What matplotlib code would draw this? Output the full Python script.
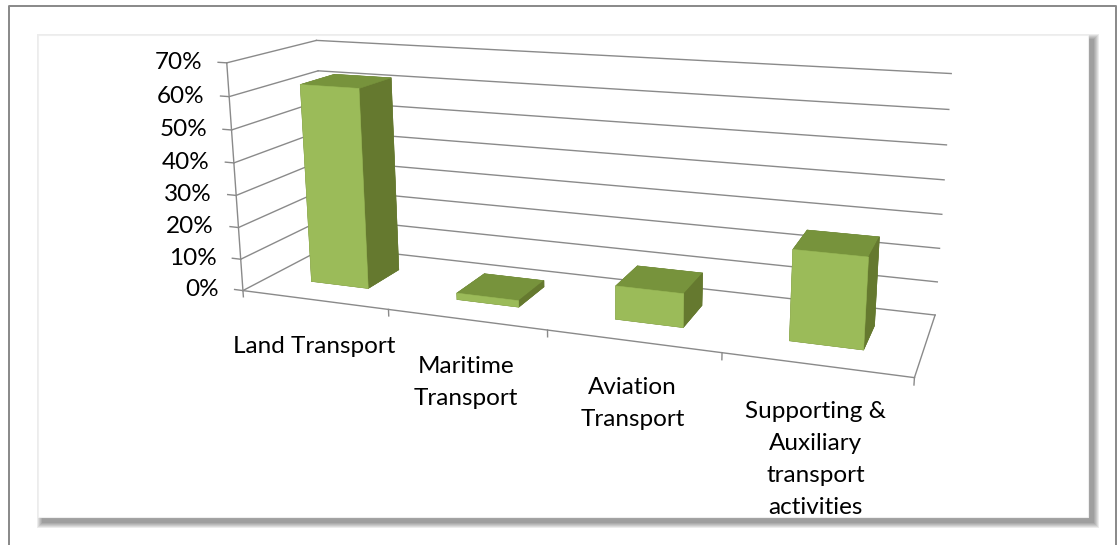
import numpy as np
import matplotlib
matplotlib.use('Agg')
import matplotlib.pyplot as plt
from matplotlib.patches import Rectangle
from matplotlib.lines import Line2D
from matplotlib.transforms import IdentityTransform
from mpl_toolkits.mplot3d import proj3d

# ---------------- data ----------------
categories = ["Land Transport", "Maritime\nTransport", "Aviation\nTransport",
              "Supporting &\nAuxiliary\ntransport\nactivities"]
shares = [62, 2, 10, 26]                     # percent
yticks = [0, 10, 20, 30, 40, 50, 60, 70]     # percent
ytick_labels = [f"{t}%" for t in yticks]

# ---------------- style ----------------
W, H = 1117, 545
FRONT, TOP, SIDE = '#9BBB59', '#77933C', '#65792F'
GRID = '#8a8a8a'
plt.rcParams['font.family'] = ['Lato', 'DejaVu Sans']

fig = plt.figure(figsize=(W / 100, H / 100), dpi=100)
fig.patch.set_facecolor('white')


def px_rect(x0, y0, x1, y1, **kw):
    """rectangle given in image pixel coords (y downwards)"""
    return Rectangle((x0 / W, 1 - y1 / H), (x1 - x0) / W, (y1 - y0) / H,
                     transform=fig.transFigure, **kw)


# outer frame
frame = Line2D([8.5 / W, 8.5 / W, 1115.5 / W, 1115.5 / W],
               [-0.05, 1 - 5.5 / H, 1 - 5.5 / H, -0.05],
               transform=fig.transFigure, color='#888888', lw=1.4, zorder=-20)
fig.add_artist(frame)

# chart box with soft drop shadow
bx0, by0, bx1, by1 = 38, 35, 1088, 517
off = 5
for r in range(6, 0, -1):
    fig.add_artist(px_rect(bx0 + off - r, by0 + off - r, bx1 + off + r, by1 + off + r,
                           facecolor='black', edgecolor='none', alpha=0.075, zorder=-15))
fig.add_artist(px_rect(bx0, by0, bx1, by1, facecolor='white', edgecolor='#efefef',
                       lw=0.8, zorder=-10))

# ---------------- 3D axes (camera fitted to the reference) ----------------
A_SCALE, CX, CY = 3946.94, 578.01, 187.90
ax = fig.add_axes([0, 0, 1, 1], projection='3d', computed_zorder=False)
vx0, vy0, vw, vh = ax.viewLim.bounds
L = A_SCALE * vw
left = CX + A_SCALE * vx0
bottom = H - CY + A_SCALE * vy0
ax.set_position([left / W, bottom / H, L / W, L / H])
ax.patch.set_visible(False)
ax.set_axis_off()
ax.set_box_aspect((1, 0.24616, 0.34978))
ax.set_proj_type('persp', focal_length=0.33422)
ax.view_init(elev=14.398, azim=-69.354, roll=0.253)

n = len(categories)
x0, x1 = -0.5, n - 0.5
y0, y1 = 0.0, 1.0
zmax = yticks[-1] / 100

lw = 1.0
lines = []
for t in yticks:
    z = t / 100
    lines += ax.plot([x0, x1], [y1, y1], [z, z], color=GRID, lw=lw, zorder=1)        # back wall
    lines += ax.plot([x0, x0], [y0, y1], [z, z], color=GRID, lw=lw, zorder=1)        # side wall
    lines += ax.plot([x0, x0 - 0.06], [y0, y0], [z, z], color=GRID, lw=lw, zorder=1)  # tick
lines += ax.plot([x0, x0], [y0, y0], [-0.02, zmax], color=GRID, lw=lw, zorder=1)      # value axis
lines += ax.plot([x0, x1], [y0, y0], [0, 0], color=GRID, lw=lw, zorder=1)            # category axis
lines += ax.plot([x1, x1], [y0, y1], [0, 0], color=GRID, lw=lw, zorder=1)            # floor edge
for b in np.arange(x0 + 1, x1 + 0.01, 1.0):
    lines += ax.plot([b, b], [y0, y0], [0, -0.02], color=GRID, lw=lw, zorder=1)
for ln in lines:
    ln.set_clip_on(False)

# bars
xs = np.arange(n)
bw, bd, yb = 0.4, 0.4, 0.3
face_cols = []
for _ in xs:
    # order: bottom, top, front(-y), back(+y), left(-x), right(+x)
    face_cols += [SIDE, TOP, FRONT, SIDE, SIDE, SIDE]
bars = ax.bar3d(xs - bw / 2, np.full(n, yb), np.zeros(n), bw, bd, np.array(shares) / 100,
                color=face_cols, shade=False, edgecolor=face_cols, linewidth=0.4, zorder=3)
bars.set_clip_on(False)

ax.set_xlim(x0, x1)
ax.set_ylim(y0, y1)
ax.set_zlim(0, zmax)


def to_px(x, y, z):
    M = ax.get_proj()
    u, v, _ = proj3d.proj_transform(np.array([x]), np.array([y]), np.array([z]), M)
    return ax.transData.transform((u[0], v[0]))


# font size matched to the reference label width
rend = fig.canvas.get_renderer()
tmp = fig.text(0, 0, "Land Transport", fontsize=17)
fs = 17 * 162 / tmp.get_window_extent(rend).width
tmp.remove()

# value-axis labels
for t, lab in zip(yticks, ytick_labels):
    px, py = to_px(x0 - 0.06, y0, t / 100)
    fig.text(px - 16, py, lab, transform=IdentityTransform(), ha='right', va='center',
             fontsize=fs, color='black')

# category labels
for i, lab in enumerate(categories):
    px, py = to_px(i, y0, 0)
    fig.text(px, py - 36, lab, transform=IdentityTransform(), ha='center', va='top',
             multialignment='center', linespacing=1.65, fontsize=fs, color='black')

fig.savefig('out.png', dpi=100)
